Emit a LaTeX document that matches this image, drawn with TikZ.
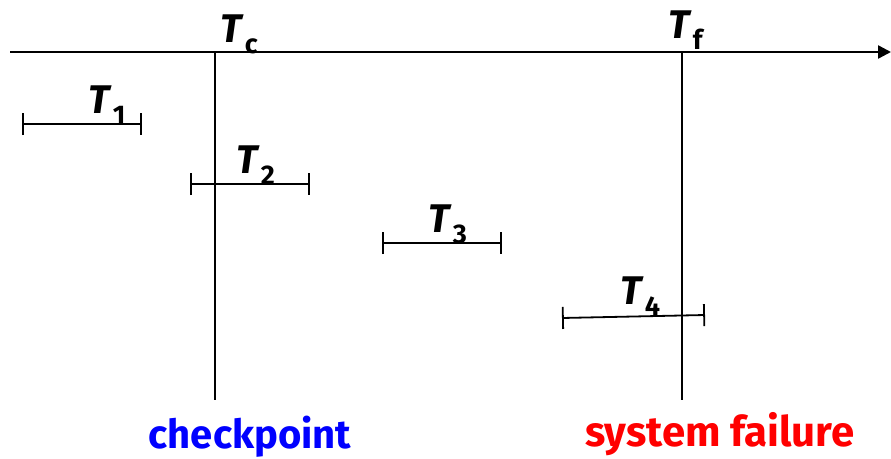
\documentclass[tikz,border=0pt]{standalone}
\usepackage{fontspec}
\setmainfont{Fira Sans}
\usetikzlibrary{arrows.meta}
\newcommand\Tlab[1]{\textbf{\textit{T}}\kern1pt\raisebox{-11pt}{\fontsize{27}{27}\selectfont\textbf{#1}}}
\begin{document}
\begin{tikzpicture}[x=1pt,y=-1pt,
  axis/.style={line width=2.4pt,-{Triangle[length=13pt,width=13pt]}},
  vline/.style={line width=1.8pt},
  interval/.style={line width=1.8pt,{Bar[width=22pt,line width=1.8pt]}-{Bar[width=22pt,line width=1.8pt]}},
  tlabel/.style={font=\fontsize{40}{40}\selectfont, inner sep=0pt},
  caption/.style={font=\fontsize{40}{40}\selectfont\bfseries, inner sep=0pt}]
\useasboundingbox (0,0) rectangle (891,458);
% axis
\coordinate (a0) at (10,52);
\coordinate (a1) at (891,52);
\draw[axis] (a0) -- (a1);
% vertical lines
\coordinate (c0) at (215,52);
\coordinate (c1) at (215,400);
\coordinate (f0) at (682,52);
\coordinate (f1) at (682,400);
\draw[vline] (c0) -- (c1);
\draw[vline] (f0) -- (f1);
% labels on axis
\node[tlabel,anchor=base west] (tc) at (220,42) {\Tlab{c}};
\node[tlabel,anchor=base west] (tf) at (668,38) {\Tlab{f}};
% intervals
\coordinate (i1a) at (22,124); \coordinate (i1b) at (142,124);
\coordinate (i2a) at (190,184); \coordinate (i2b) at (310,184);
\coordinate (i3a) at (382,243); \coordinate (i3b) at (502,243);
\coordinate (i4a) at (562,318); \coordinate (i4b) at (705,315);
\draw[interval] (i1a) -- (i1b);
\draw[interval] (i2a) -- (i2b);
\draw[interval] (i3a) -- (i3b);
\draw[interval] (i4a) -- (i4b);
\node[tlabel,anchor=base west] (t1) at (88,113) {\Tlab{1}};
\node[tlabel,anchor=base west] (t2) at (236,173) {\Tlab{2}};
\node[tlabel,anchor=base west] (t3) at (428,232) {\Tlab{3}};
\node[tlabel,anchor=base west] (t4) at (620,304) {\Tlab{4}};
% captions
\node[caption,anchor=base,text={rgb,255:red,0;green,0;blue,255}] (cp) at (250,448) {checkpoint};
\node[caption,anchor=base,font=\fontsize{42}{42}\selectfont\bfseries,text={rgb,255:red,255;green,0;blue,0}] (sf) at (720,446) {system failure};
\end{tikzpicture}
\end{document}
